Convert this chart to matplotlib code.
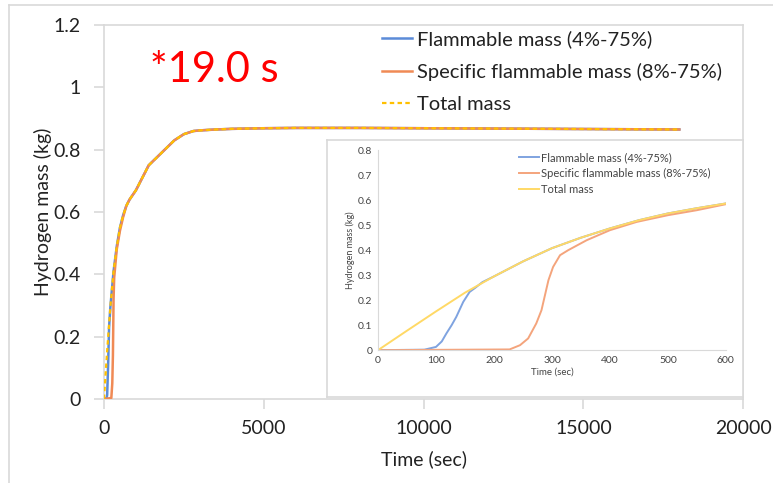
import matplotlib
matplotlib.use('Agg')
import matplotlib.pyplot as plt
from matplotlib.lines import Line2D

plt.rcParams['font.family'] = ['Lato', 'DejaVu Sans']

## main chart data (time in s, mass in kg)
totalT = [0, 100, 200, 300, 400, 500, 600, 700, 800, 1000, 1200, 1400, 1600, 1800, 2000,
          2200, 2500, 2800, 3000, 3500, 4000, 5000, 6000, 8000, 10000, 12000, 14000, 16000, 18000]
totalM = [0, 0.155, 0.295, 0.41, 0.49, 0.55, 0.59, 0.62, 0.64, 0.67, 0.71, 0.75, 0.77, 0.79, 0.81,
          0.83, 0.85, 0.86, 0.862, 0.865, 0.867, 0.869, 0.870, 0.870, 0.869, 0.868, 0.867, 0.866, 0.865]
flamT = [0, 80, 100, 130, 160, 200, 300, 400, 500, 600, 700, 800, 1000, 1200, 1400, 1600, 1800, 2000,
         2200, 2500, 2800, 3000, 3500, 4000, 5000, 6000, 8000, 10000, 12000, 14000, 16000, 18000]
flamM = [0, 0.002, 0.013, 0.11, 0.23, 0.295, 0.41, 0.49, 0.55, 0.59, 0.62, 0.64, 0.67, 0.71, 0.75, 0.77, 0.79, 0.81,
         0.83, 0.85, 0.86, 0.862, 0.865, 0.867, 0.869, 0.870, 0.870, 0.869, 0.868, 0.867, 0.866, 0.865]
specT = [0, 230, 260, 280, 300, 320, 400, 500, 600, 700, 800, 1000, 1200, 1400, 1600, 1800, 2000,
         2200, 2500, 2800, 3000, 3500, 4000, 5000, 6000, 8000, 10000, 12000, 14000, 16000, 18000]
specM = [0, 0.003, 0.05, 0.14, 0.32, 0.39, 0.48, 0.54, 0.584, 0.62, 0.64, 0.67, 0.71, 0.75, 0.77, 0.79, 0.81,
         0.83, 0.85, 0.86, 0.862, 0.865, 0.867, 0.869, 0.870, 0.870, 0.869, 0.868, 0.867, 0.866, 0.865]

## inset data (first 600 s)
inTotalT = [0, 50, 100, 150, 200, 250, 300, 350, 400, 450, 500, 550, 600]
inTotalM = [0, 0.078, 0.155, 0.23, 0.295, 0.355, 0.408, 0.45, 0.487, 0.52, 0.547, 0.568, 0.587]
inFlamT = [0, 80, 100, 110, 118, 127, 135, 147, 158, 168, 180, 200, 250, 300, 350, 400, 450, 500, 550, 600]
inFlamM = [0, 0.002, 0.013, 0.035, 0.067, 0.10, 0.133, 0.193, 0.233, 0.25, 0.272, 0.295, 0.355, 0.408,
           0.45, 0.487, 0.52, 0.547, 0.568, 0.587]
inSpecT = [0, 227, 245, 259, 273, 282, 294, 302, 314, 328, 360, 400, 446, 500, 550, 600]
inSpecM = [0, 0.003, 0.02, 0.047, 0.107, 0.16, 0.28, 0.333, 0.38, 0.40, 0.44, 0.48, 0.513, 0.54, 0.56, 0.584]

labels = ['Flammable mass (4%-75%)', 'Specific flammable mass (8%-75%)', 'Total mass']
gridGray = '#D9D9D9'
textCol = '#222222'

fig = plt.figure(figsize=(7.73, 4.83), dpi=100)

## outer frame lines
fig.add_artist(Line2D([0.012, 1.0], [0.99, 0.99], color=gridGray, lw=1.2, transform=fig.transFigure))
fig.add_artist(Line2D([0.012, 0.012], [0.0, 0.99], color=gridGray, lw=1.2, transform=fig.transFigure))

## main axes
ax = fig.add_axes([0.1345, 0.174, 0.827, 0.774])
ax.plot(flamT, flamM, color='#5B8BD8', lw=1.8, label=labels[0], zorder=2)
ax.plot(specT, specM, color='#F08A55', lw=1.8, label=labels[1], zorder=3)
ax.plot(totalT, totalM, color='#FFC000', lw=1.6, ls=(0, (2, 1.5)), label=labels[2], zorder=4)
ax.set_xlim(0, 20000)
ax.set_ylim(0, 1.2)
ax.set_xticks([0, 5000, 10000, 15000, 20000])
ax.set_yticks([0, 0.2, 0.4, 0.6, 0.8, 1, 1.2])
ax.set_yticklabels(['0', '0.2', '0.4', '0.6', '0.8', '1', '1.2'])
for s in ax.spines.values():
	s.set_color(gridGray)
	s.set_linewidth(1.2)
ax.tick_params(colors=gridGray, labelcolor=textCol, labelsize=14, length=7, width=1.2)
ax.tick_params(axis='x', pad=8)
ax.tick_params(axis='y', pad=10)
ax.set_xlabel('Time (sec)', fontsize=14, color=textCol, labelpad=10)
ax.set_ylabel('Hydrogen mass (kg)', fontsize=14, color=textCol, labelpad=1)
ax.legend(loc='upper right', bbox_to_anchor=(0.995, 1.035), frameon=False, fontsize=14.5,
	handlelength=1.5, handletextpad=0.25, labelspacing=0.75, labelcolor=textCol)
ax.text(0.072, 0.88, '*19.0 s', transform=ax.transAxes, color='#FF0000', fontsize=30, va='center')

## inset frame
frame = fig.add_axes([0.423, 0.178, 0.538, 0.532])
frame.set_xticks([])
frame.set_yticks([])
for s in frame.spines.values():
	s.set_color(gridGray)
	s.set_linewidth(1.2)

## inset axes
ins = fig.add_axes([0.489, 0.275, 0.450, 0.414])
ins.plot(inFlamT, inFlamM, color='#7FA3E0', lw=1.4, label=labels[0])
ins.plot(inSpecT, inSpecM, color='#F4A47C', lw=1.4, label=labels[1])
ins.plot(inTotalT, inTotalM, color='#FFD966', lw=1.4, label=labels[2])
ins.set_xlim(0, 600)
ins.set_ylim(0, 0.8)
ins.set_xticks([0, 100, 200, 300, 400, 500, 600])
ins.set_yticks([0, 0.1, 0.2, 0.3, 0.4, 0.5, 0.6, 0.7, 0.8])
ins.set_yticklabels(['0', '0.1', '0.2', '0.3', '0.4', '0.5', '0.6', '0.7', '0.8'])
for s in ['top', 'right']:
	ins.spines[s].set_visible(False)
for s in ['left', 'bottom']:
	ins.spines[s].set_color(gridGray)
ins.tick_params(colors=gridGray, labelcolor='#444444', labelsize=7.5, length=0, pad=4)
ins.set_xlabel('Time (sec)', fontsize=7, color='#444444', labelpad=2)
ins.set_ylabel('Hydrogen mass (kg)', fontsize=6.5, color='#444444', labelpad=2)
ins.legend(loc='upper right', bbox_to_anchor=(0.985, 1.04), frameon=False, fontsize=8,
	handlelength=1.8, handletextpad=0.15, labelspacing=0.45, labelcolor='#444444')

fig.savefig('out.png', dpi=100)
